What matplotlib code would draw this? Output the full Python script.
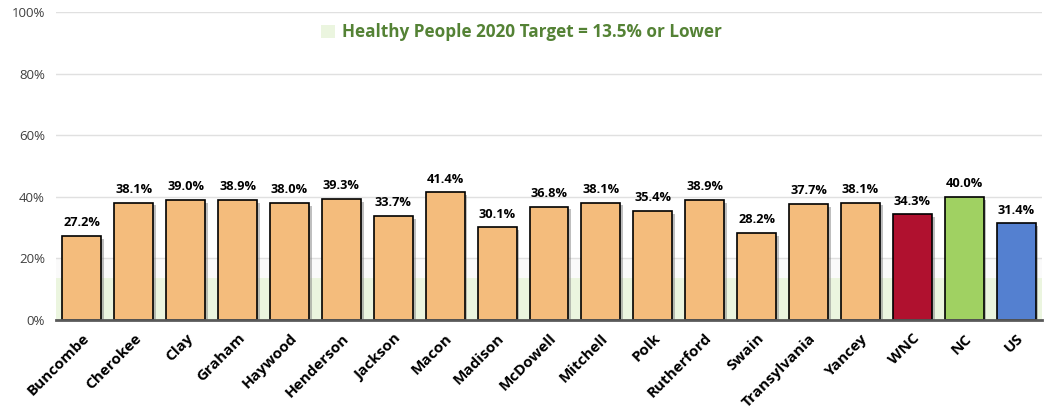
import matplotlib
matplotlib.use("Agg")
import matplotlib.pyplot as plt
import matplotlib.patheffects as pe
from matplotlib.patches import Patch

categories = ["Buncombe", "Cherokee", "Clay", "Graham", "Haywood", "Henderson",
              "Jackson", "Macon", "Madison", "McDowell", "Mitchell", "Polk",
              "Rutherford", "Swain", "Transylvania", "Yancey", "WNC", "NC", "US"]
values = [27.2, 38.1, 39.0, 38.9, 38.0, 39.3, 33.7, 41.4, 30.1, 36.8, 38.1, 35.4,
          38.9, 28.2, 37.7, 38.1, 34.3, 40.0, 31.4]
target = 13.5
yticks = [0, 20, 40, 60, 80, 100]

county_color = "#F4BC7C"
special_colors = {"WNC": "#B0112F", "NC": "#A0D162", "US": "#5480D0"}
colors = [special_colors.get(c, county_color) for c in categories]

plt.rcParams['font.family'] = ['Open Sans', 'DejaVu Sans']

fig = plt.figure(figsize=(10.49, 4.11), dpi=100)
ax = fig.add_axes([56/1049, 1-320/411, (1042-56)/1049, (320-12)/411])

n = len(categories)
x = list(range(n))
ax.set_xlim(-0.5, n - 0.5)
ax.set_ylim(0, 100)

# target band
ax.axhspan(target, 20, color="#FAFAFA", zorder=0, lw=0)
ax.axhspan(0, target, color="#EBF5DF", zorder=0.5, lw=0)

ax.set_yticks(yticks)
ax.set_yticklabels([f"{t}%" for t in yticks], fontsize=9.5, color="#404040")
ax.yaxis.grid(True, color="#E0E0E0", lw=1, zorder=0.2)
ax.set_axisbelow(True)
ax.tick_params(axis='y', length=0, pad=8)
ax.tick_params(axis='x', length=0, pad=8)

bars = ax.bar(x, values, width=0.75, color=colors, edgecolor="black", lw=1.2, zorder=3)
for b in bars:
    b.set_path_effects([pe.SimplePatchShadow(offset=(2, -2), shadow_rgbFace="#808080", alpha=0.5), pe.Normal()])

for xi, v in zip(x, values):
    ax.text(xi, v + 2.2, f"{v:.1f}%", ha="center", va="bottom", fontsize=9.2,
            fontweight="bold", color="black", zorder=4)

ax.set_xticks(x)
ax.set_xticklabels(categories, rotation=45, ha="right", va="top",
                   rotation_mode="anchor", fontsize=11, fontweight="bold")

for s in ["top", "right", "left"]:
    ax.spines[s].set_visible(False)
ax.spines["bottom"].set_color("#595959")
ax.spines["bottom"].set_linewidth(2)
ax.spines["bottom"].set_zorder(5)

handle = Patch(facecolor="#EBF5DF", edgecolor="none")
leg = ax.legend([handle], ["Healthy People 2020 Target = 13.5% or Lower"],
                loc="center", bbox_to_anchor=(0.472, 0.935), frameon=False,
                handlelength=0.8, handleheight=0.8, handletextpad=0.4,
                prop={"weight": "bold", "size": 12.3})
for t in leg.get_texts():
    t.set_color("#548235")

fig.savefig("out.png", dpi=100)
